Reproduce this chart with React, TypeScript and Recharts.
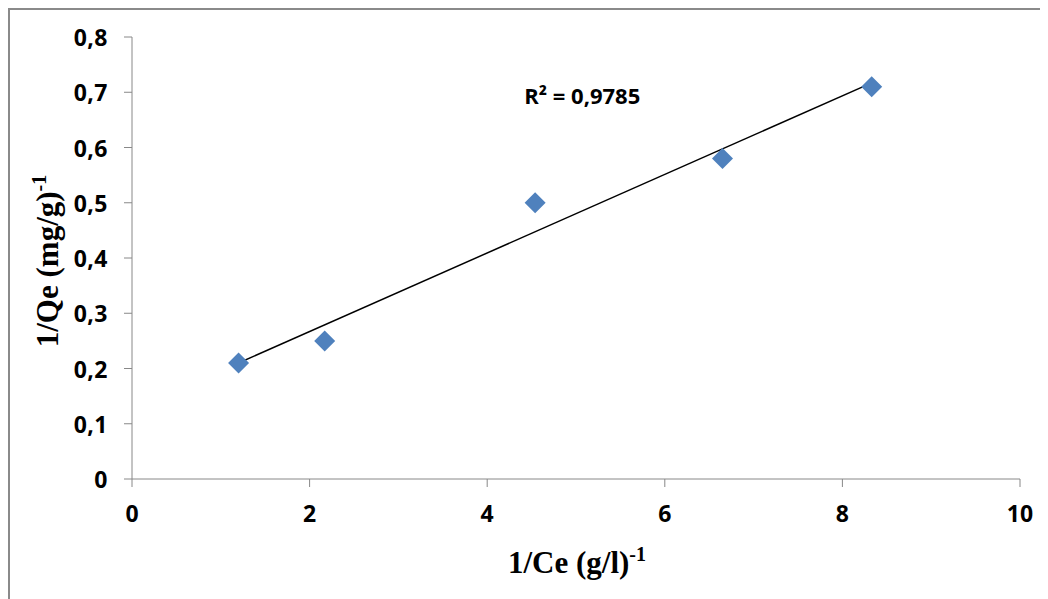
import React from 'react';
import { ScatterChart, Scatter, XAxis, YAxis, ReferenceLine, ReferenceDot, Label } from 'recharts';

const xValues = [1.2, 2.17, 4.54, 6.65, 8.33];
const yValues = [0.21, 0.25, 0.5, 0.58, 0.71];
const trendStart = { x: 1.2, y: 0.21 };
const trendEnd = { x: 8.33, y: 0.717 };
const xTicks = [0, 2, 4, 6, 8, 10];
const yTicks = [0, 0.1, 0.2, 0.3, 0.4, 0.5, 0.6, 0.7, 0.8];
const r2Text = 'R² = 0,9785';
const r2Pos = { x: 5.07, y: 0.693 };

const points = xValues.map((x, i) => ({ x, y: yValues[i] }));

const TICK_FS = 23;

const XTick = (props: any) => {
  const { x, y, payload } = props;
  return (
    <text x={x} y={y + 3} textAnchor="middle" dominantBaseline="hanging" fontFamily="Open Sans" fontWeight={700} fontSize={TICK_FS} fill="#000">
      {payload.value}
    </text>
  );
};

const fmtY = (v: number) => (v === 0 ? '0' : v.toFixed(1).replace('.', ','));

const YTick = (props: any) => {
  const { x, y, payload } = props;
  return (
    <text x={x} y={y} textAnchor="end" dominantBaseline="central" fontFamily="Open Sans" fontWeight={700} fontSize={TICK_FS} letterSpacing={0.5} fill="#000">
      {fmtY(payload.value)}
    </text>
  );
};

const Diamond = (props: any) => {
  const { cx, cy } = props;
  if (cx == null || cy == null) return null;
  const r = 10.5;
  return (
    <polygon
      points={`${cx},${cy - r} ${cx + r},${cy} ${cx},${cy + r} ${cx - r},${cy}`}
      fill="#4F81BD"
    />
  );
};

const XTitle = () => (
  <text x={567} y={563} textAnchor="middle" fontFamily="Liberation Serif" fontWeight={700} fontSize={31} fill="#000">
    1/Ce (g/l)
    <tspan dy={-12} fontSize={20}>-1</tspan>
  </text>
);

const YTitle = () => (
  <text
    x={0}
    y={0}
    transform="translate(48,251) rotate(-90)"
    textAnchor="middle"
    fontFamily="Liberation Serif"
    fontWeight={700}
    fontSize={31}
    fill="#000"
  >
    1/Qe (mg/g)
    <tspan dy={-12} fontSize={20}>-1</tspan>
  </text>
);

export default function App() {
  return (
    <div
      style={{
        width: 1040,
        height: 591,
        borderTop: '2px solid #8a8a8a',
        borderLeft: '2px solid #8a8a8a',
        boxSizing: 'border-box',
        background: '#fff',
        overflow: 'hidden',
      }}
    >
      <ScatterChart
        width={1038}
        height={589}
        margin={{ top: 27, right: 28, bottom: 70, left: 0 }}
      >
        <XAxis
          type="number"
          dataKey="x"
          domain={[0, 10]}
          ticks={xTicks}
          interval={0}
          allowDataOverflow
          stroke="#888"
          tickLine={{ stroke: '#888' }}
          tickSize={8}
          tickMargin={12}
          tick={<XTick />}
          height={50}
        >
          <Label content={XTitle} />
        </XAxis>
        <YAxis
          type="number"
          dataKey="y"
          domain={[0, 0.8]}
          ticks={yTicks}
          interval={0}
          allowDataOverflow
          stroke="#888"
          tickLine={{ stroke: '#888' }}
          tickSize={8}
          tickMargin={16}
          tick={<YTick />}
          width={122}
        >
          <Label content={YTitle} />
        </YAxis>
        <ReferenceLine
          segment={[trendStart, trendEnd]}
          stroke="#000"
          strokeWidth={1.5}
          ifOverflow="visible"
        />
        <Scatter data={points} shape={Diamond} isAnimationActive={false} />
        <ReferenceDot
          x={r2Pos.x}
          y={r2Pos.y}
          r={0}
          fill="none"
          stroke="none"
          label={{ value: r2Text, position: 'center', fontFamily: 'Open Sans', fontWeight: 700, fontSize: 22, fill: '#000' }}
        />
      </ScatterChart>
    </div>
  );
}
